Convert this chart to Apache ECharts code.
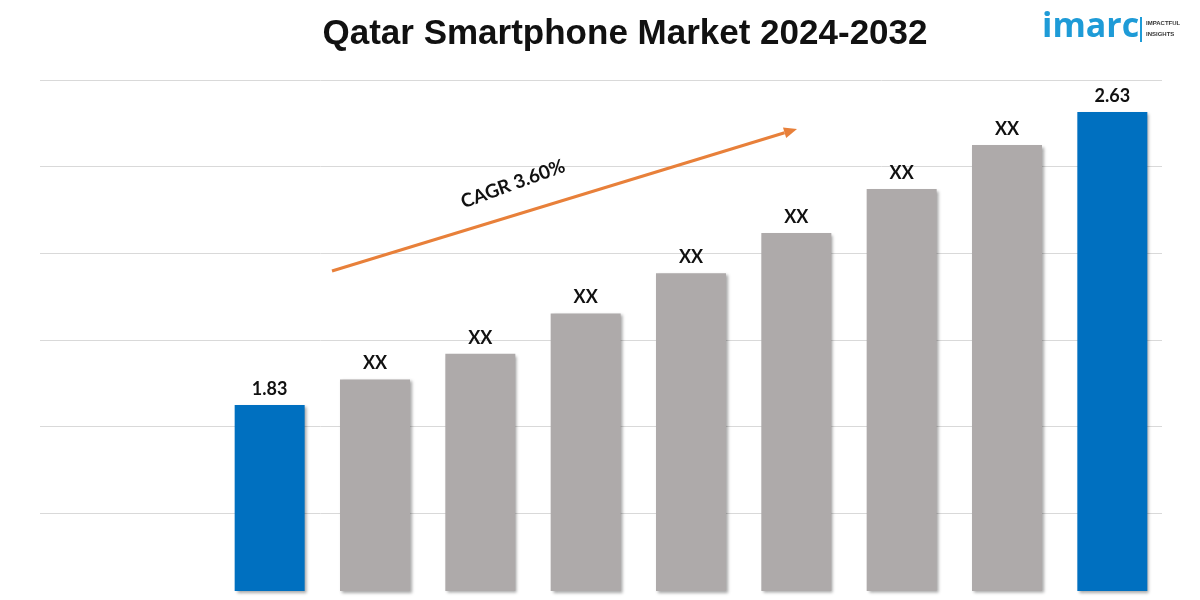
<!DOCTYPE html>
<html>
<head>
<meta charset="utf-8">
<script src="https://cdn.jsdelivr.net/npm/echarts@6/dist/echarts.min.js"></script>
<style>
html,body{margin:0;padding:0;background:#fff;}
#chart{width:1200px;height:600px;}
</style>
</head>
<body>
<div id="chart"></div>
<script>
var title = 'Qatar Smartphone Market 2024-2032';
var categories = ['2024','2025','2026','2027','2028','2029','2030','2031','2032'];
var values = [1.83, 1.90, 1.97, 2.08, 2.19, 2.30, 2.42, 2.54, 2.63];
var labels = ['1.83','XX','XX','XX','XX','XX','XX','XX','2.63'];
var highlight = [true,false,false,false,false,false,false,false,true];
var cagrText = 'CAGR 3.60%';
var gridTicks = [0,1,2,3,4,5,6];

var BLUE = '#0070C0', GREY = '#AEAAAA', ORANGE = '#E8803A';

var chart = echarts.init(document.getElementById('chart'));
var barData = values.map(function(v, i){
  return {
    value: v,
    itemStyle: {color: highlight[i] ? BLUE : GREY},
    label: {formatter: labels[i]}
  };
});

// arrow geometry (annotation)
var ax1 = 332, ay1 = 271, ax2 = 797, ay2 = 129;
var ang = Math.atan2(ay2 - ay1, ax2 - ax1);
var hl = 13, hw = 5.5;
var bx = ax2 - hl*Math.cos(ang), by = ay2 - hl*Math.sin(ang);
var px = -Math.sin(ang), py = Math.cos(ang);

chart.setOption({
  animation: false,
  backgroundColor: '#ffffff',
  title: {
    text: title, left: 620, top: 12, textAlign: 'center',
    textStyle: {fontFamily: 'Liberation Sans', fontWeight: 'bold', fontSize: 35, color: '#111'}
  },
  grid: [
    {left: 40, right: 38, top: 80, height: 524, containLabel: false},
    {left: 217, right: 35, top: 80, bottom: 9, containLabel: false}
  ],
  xAxis: [
    {gridIndex: 0, type: 'value', min: 0, max: 1, show: false},
    {gridIndex: 1, type: 'category', data: categories,
      axisLine: {show: false}, axisTick: {show: false}, axisLabel: {show: false}}
  ],
  yAxis: [
    {gridIndex: 0, type: 'value', min: gridTicks[0], max: gridTicks[gridTicks.length-1], interval: 1,
      axisLine: {show: false}, axisTick: {show: false}, axisLabel: {show: false},
      splitLine: {show: true, lineStyle: {color: '#D9D9D9', width: 1}}},
    {gridIndex: 1, type: 'value', min: 1.3222, max: 2.7174,
      axisLine: {show: false}, axisTick: {show: false}, axisLabel: {show: false},
      splitLine: {show: false}}
  ],
  series: [{
    type: 'bar', xAxisIndex: 1, yAxisIndex: 1,
    data: barData, barWidth: 70,
    itemStyle: {shadowColor: 'rgba(0,0,0,0.35)', shadowBlur: 3, shadowOffsetX: 2, shadowOffsetY: 2},
    label: {show: true, position: 'top', distance: 7,
      fontFamily: 'Lato', fontWeight: 'bold', fontSize: 18, color: '#111'}
  }],
  graphic: [
    {type: 'line', shape: {x1: ax1, y1: ay1, x2: bx, y2: by},
      style: {stroke: ORANGE, lineWidth: 3}, z: 100},
    {type: 'polygon', shape: {points: [[ax2, ay2], [bx + px*hw, by + py*hw], [bx - px*hw, by - py*hw]]},
      style: {fill: ORANGE}, z: 100},
    {type: 'text', x: 513, y: 184, rotation: 0.35,
      style: {text: cagrText, fill: '#111', font: 'bold 19px Lato', align: 'center', verticalAlign: 'middle'}, z: 100},
    // logo
    {type: 'text', x: 1042, y: 44,
      style: {text: 'imarc', fill: '#1E9BD7', font: 'bold 34px "Open Sans"', verticalAlign: 'bottom'}, z: 100},
    {type: 'rect', shape: {x: 1140, y: 17, width: 2, height: 25}, style: {fill: '#1E9BD7'}, z: 100},
    {type: 'text', x: 1146, y: 23,
      style: {text: 'IMPACTFUL', fill: '#333', font: 'bold 6px "Liberation Sans"', verticalAlign: 'middle'}, z: 100},
    {type: 'text', x: 1146, y: 34,
      style: {text: 'INSIGHTS', fill: '#333', font: 'bold 6px "Liberation Sans"', verticalAlign: 'middle'}, z: 100}
  ]
});
</script>
</body>
</html>
